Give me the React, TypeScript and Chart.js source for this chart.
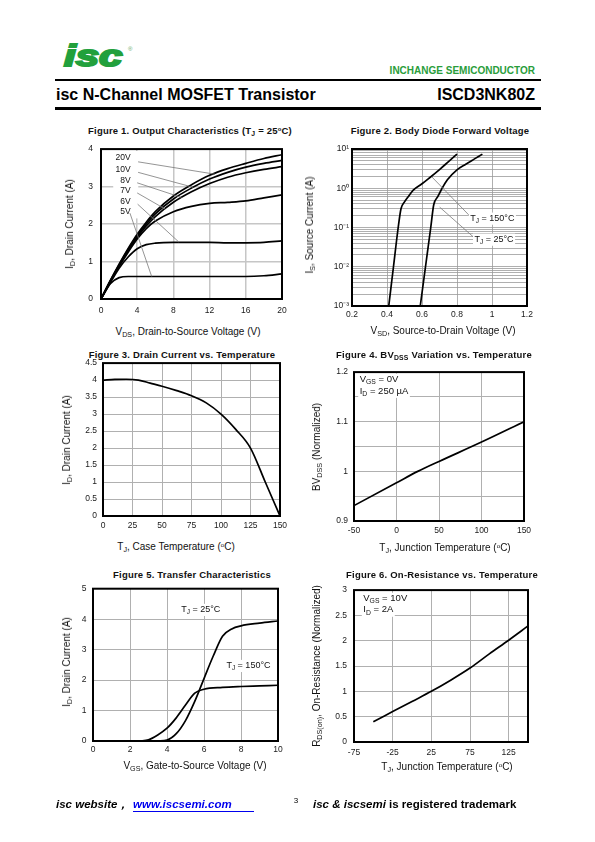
import React, { useEffect, useRef } from 'react';
import { Chart, registerables } from 'chart.js';

Chart.register(...registerables);

const FONT = '"Liberation Sans", Arial, Helvetica, sans-serif';

// ---------- Figure 1: Output characteristics ----------
const fig1Vds = [0, 1, 2, 3, 4, 5, 6, 8, 10, 12, 14, 16, 18, 20];
const fig1Id20V = [0, 0.48, 0.93, 1.35, 1.73, 2.05, 2.33, 2.75, 3.05, 3.3, 3.48, 3.62, 3.75, 3.85];
const fig1Id10V = [0, 0.47, 0.91, 1.32, 1.69, 2.0, 2.27, 2.67, 2.96, 3.2, 3.38, 3.52, 3.62, 3.7];
const fig1Id8V = [0, 0.46, 0.89, 1.29, 1.65, 1.95, 2.2, 2.58, 2.86, 3.08, 3.25, 3.37, 3.46, 3.53];
const fig1Id7V = [0, 0.45, 0.87, 1.25, 1.6, 1.88, 2.08, 2.33, 2.47, 2.55, 2.58, 2.62, 2.7, 2.78];
const fig1Id6V = [0, 0.42, 0.82, 1.12, 1.34, 1.45, 1.49, 1.51, 1.51, 1.51, 1.5, 1.5, 1.51, 1.55];
const fig1Id5V = [0, 0.4, 0.57, 0.6, 0.6, 0.6, 0.6, 0.6, 0.6, 0.6, 0.6, 0.6, 0.62, 0.67];
const fig1XTicks = [0, 4, 8, 12, 16, 20];
const fig1XLabels = ['0', '4', '8', '12', '16', '20'];
const fig1YTicks = [0, 1, 2, 3, 4];
const fig1YLabels = ['0', '1', '2', '3', '4'];
const fig1CurveNames = ['20V', '10V', '8V', '7V', '6V', '5V'];
const fig1NameX = 3.28;
const fig1NameY = [3.76, 3.46, 3.16, 2.88, 2.59, 2.33];
const fig1LeadX0 = [4.1, 4.1, 4.0, 4.0, 4.05, 3.2];
const fig1LeadY0 = [3.66, 3.38, 3.1, 2.83, 2.53, 2.29];
const fig1LeadX1 = [12.6, 10.2, 8.9, 7.1, 8.6, 5.6];
const fig1LeadY1 = [3.33, 2.98, 2.71, 2.4, 1.52, 0.6];

// ---------- Figure 2: Body diode forward voltage ----------
const fig2Vsd150 = [0.41, 0.437, 0.464, 0.48, 0.5, 0.52, 0.55, 0.6, 0.64, 0.7, 0.75, 0.8];
const fig2Is150 = [0.001, 0.01, 0.1, 0.3, 0.45, 0.6, 0.9, 1.3, 1.8, 3.0, 4.7, 7.4];
const fig2Vsd25 = [0.59, 0.62, 0.65, 0.667, 0.69, 0.715, 0.745, 0.8, 0.85, 0.9, 0.945];
const fig2Is25 = [0.001, 0.01, 0.1, 0.38, 0.61, 1.0, 1.65, 2.95, 4.1, 5.6, 7.4];
const fig2XTicks = [0.2, 0.4, 0.6, 0.8, 1.0, 1.2];
const fig2XLabels = ['0.2', '0.4', '0.6', '0.8', '1', '1.2'];
const fig2Decades = [0.001, 0.01, 0.1, 1, 10];
const fig2DecadeLabels = ['10\u207B\u00B3', '10\u207B\u00B2', '10\u207B\u00B9', '10\u2070', '10\u00B9'];
const fig2Minor = [2, 3, 4, 5, 6, 7, 8, 9];
const fig2LabelText = ['T_{J} = 150\u00B0C', 'T_{J} = 25\u00B0C'];
const fig2LabelX = [0.876, 0.9];
const fig2LabelY = [0.173, 0.0504];
const fig2LeadX0 = [0.657, 0.701];
const fig2LeadY0 = [1.93, 0.33];
const fig2LeadX1 = [0.872, 0.895];
const fig2LeadY1 = [0.199, 0.0566];

// ---------- Figure 3: Drain current vs temperature ----------
const fig3Tc = [0, 10, 20, 30, 40, 50, 62.5, 75, 87.5, 100, 112.5, 125, 137.5, 150];
const fig3Id = [4.0, 4.02, 4.025, 4.0, 3.91, 3.82, 3.69, 3.54, 3.33, 3.0, 2.55, 2.0, 1.0, 0];
const fig3XTicks = [0, 25, 50, 75, 100, 125, 150];
const fig3XLabels = ['0', '25', '50', '75', '100', '125', '150'];
const fig3YTicks = [0, 0.5, 1, 1.5, 2, 2.5, 3, 3.5, 4, 4.5];
const fig3YLabels = ['0', '0.5', '1', '1.5', '2', '2.5', '3', '3.5', '4', '4.5'];

// ---------- Figure 4: BVdss vs temperature ----------
const fig4Tj = [-50, 0, 25, 50, 100, 150];
const fig4Bv = [0.931, 0.977, 1.0, 1.02, 1.059, 1.1];
const fig4XTicks = [-50, 0, 50, 100, 150];
const fig4XLabels = ['-50', '0', '50', '100', '150'];
const fig4YTicks = [0.9, 0.95, 1.0, 1.05, 1.1, 1.15, 1.2];
const fig4YLabels = ['0.9', '', '1', '', '1.1', '', '1.2'];
const fig4LabelText = ['V_{GS} = 0V', 'I_{D} = 250 \u00B5A'];
const fig4LabelX = [-43.3, -43.3];
const fig4LabelY = [1.185, 1.162];

// ---------- Figure 5: Transfer characteristics ----------
const fig5Vgs25 = [3.5, 4, 4.5, 5, 5.5, 6, 6.5, 7, 7.5, 8, 9, 10];
const fig5Id25 = [0, 0.03, 0.24, 0.67, 1.3, 2.05, 2.79, 3.44, 3.68, 3.78, 3.87, 3.94];
const fig5Vgs150 = [2.5, 3, 3.5, 4, 4.5, 5, 5.5, 6, 7, 8, 9, 10];
const fig5Id150 = [0, 0.04, 0.2, 0.42, 0.76, 1.18, 1.57, 1.7, 1.76, 1.79, 1.81, 1.83];
const fig5XTicks = [0, 2, 4, 6, 8, 10];
const fig5XLabels = ['0', '2', '4', '6', '8', '10'];
const fig5YTicks = [0, 1, 2, 3, 4, 5];
const fig5YLabels = ['0', '1', '2', '3', '4', '5'];
const fig5LabelText = ['T_{J} = 25\u00B0C', 'T_{J} = 150\u00B0C'];
const fig5LabelX = [4.77, 7.21];
const fig5LabelY = [4.32, 2.48];

// ---------- Figure 6: On-resistance vs temperature ----------
const fig6Tj = [-50, -25, 0, 25, 50, 75, 100, 125, 150];
const fig6Rds = [0.4, 0.6, 0.8, 1.0, 1.22, 1.46, 1.74, 2.01, 2.29];
const fig6XTicks = [-75, -25, 25, 75, 125];
const fig6XLabels = ['-75', '-25', '25', '75', '125'];
const fig6YTicks = [0, 0.5, 1, 1.5, 2, 2.5, 3];
const fig6YLabels = ['0', '0.5', '1', '1.5', '2', '2.5', '3'];
const fig6LabelText = ['V_{GS} = 10V', 'I_{D} = 2A'];
const fig6LabelX = [-63, -63];
const fig6LabelY = [2.83, 2.61];

// ---------- helpers ----------
type Axis = { type?: 'linear' | 'logarithmic'; min: number; max: number; ticks: number[]; labels: string[]; pad: number };
type Series = { xs: number[]; ys: number[] };
type Draw = (ctx: CanvasRenderingContext2D, sx: (v: number) => number, sy: (v: number) => number) => void;

const YW = 44, XH = 24, PT = 10, PR = 16;

function drawRich(ctx: CanvasRenderingContext2D, s: string, x: number, y: number, size: number, align: string, bg: boolean) {
  const parts: { t: string; sub: boolean; w?: number }[] = [];
  const re = /_\{([^}]*)\}/g;
  let last = 0;
  let m: RegExpExecArray | null;
  while ((m = re.exec(s))) {
    if (m.index > last) parts.push({ t: s.slice(last, m.index), sub: false });
    parts.push({ t: m[1], sub: true });
    last = re.lastIndex;
  }
  if (last < s.length) parts.push({ t: s.slice(last), sub: false });
  const fontFor = (sub: boolean) => `${sub ? size * 0.72 : size}px ${FONT}`;
  let w = 0;
  for (const p of parts) {
    ctx.font = fontFor(p.sub);
    p.w = ctx.measureText(p.t).width;
    w += p.w;
  }
  let x0 = align === 'right' ? x - w : align === 'center' ? x - w / 2 : x;
  if (bg) {
    ctx.fillStyle = '#fff';
    ctx.fillRect(x0 - 1.5, y - size * 0.62, w + 3, size * 1.35);
  }
  ctx.fillStyle = '#111';
  ctx.textBaseline = 'middle';
  ctx.textAlign = 'left';
  for (const p of parts) {
    ctx.font = fontFor(p.sub);
    ctx.fillText(p.t, x0, p.sub ? y + size * 0.3 : y);
    x0 += p.w || 0;
  }
}

function leader(ctx: CanvasRenderingContext2D, x0: number, y0: number, x1: number, y1: number) {
  ctx.strokeStyle = '#7a7a7a';
  ctx.lineWidth = 0.8;
  ctx.beginPath();
  ctx.moveTo(x0, y0);
  ctx.lineTo(x1, y1);
  ctx.stroke();
}

type PlotProps = {
  left: number; top: number; right: number; bottom: number;
  x: Axis; y: Axis; series: Series[];
  gridColor: string; gridWidth: number;
  under?: Draw; over?: Draw;
};

function Plot(props: PlotProps) {
  const ref = useRef<HTMLCanvasElement>(null);
  const w = props.right - props.left + YW + PR;
  const h = props.bottom - props.top + PT + XH;
  useEffect(() => {
    const axis = (a: Axis, isX: boolean) => ({
      type: a.type || 'linear',
      min: a.min,
      max: a.max,
      afterBuildTicks: (s: any) => { s.ticks = a.ticks.map((v) => ({ value: v })); },
      afterFit: (s: any) => { if (isX) s.height = XH; else s.width = YW; },
      grid: { color: props.gridColor, lineWidth: props.gridWidth, drawTicks: false },
      border: { display: false },
      ticks: {
        autoSkip: false, maxRotation: 0, minRotation: 0, padding: a.pad, color: '#1a1a1a',
        font: { family: FONT, size: 8.5 },
        callback: (_v: any, i: number) => a.labels[i],
      },
    });
    const chart = new Chart(ref.current as HTMLCanvasElement, {
      type: 'line',
      data: {
        datasets: props.series.map((s) => ({
          data: s.xs.map((xv, i) => ({ x: xv, y: s.ys[i] })),
          borderColor: '#000',
          borderWidth: 1.7,
          pointRadius: 0,
          fill: false,
          cubicInterpolationMode: 'monotone',
        })),
      },
      options: {
        responsive: false,
        animation: false,
        devicePixelRatio: 1,
        layout: { padding: { top: PT, right: PR, left: 0, bottom: 0 } },
        plugins: { legend: { display: false }, tooltip: { enabled: false } },
        scales: { x: axis(props.x, true), y: axis(props.y, false) } as any,
      },
      plugins: [{
        id: 'deco',
        beforeDatasetsDraw(c: any) {
          if (!props.under) return;
          const ctx = c.ctx;
          ctx.save();
          props.under(ctx, (v) => c.scales.x.getPixelForValue(v), (v) => c.scales.y.getPixelForValue(v));
          ctx.restore();
        },
        afterDatasetsDraw(c: any) {
          if (!props.over) return;
          const ctx = c.ctx;
          ctx.save();
          props.over(ctx, (v) => c.scales.x.getPixelForValue(v), (v) => c.scales.y.getPixelForValue(v));
          ctx.restore();
        },
        afterDraw(c: any) {
          const ctx = c.ctx;
          const a = c.chartArea;
          ctx.save();
          ctx.strokeStyle = '#000';
          ctx.lineWidth = 2;
          ctx.strokeRect(a.left, a.top, a.right - a.left, a.bottom - a.top);
          ctx.restore();
        },
      } as any],
    } as any);
    return () => chart.destroy();
  }, []);
  return (
    <canvas
      ref={ref}
      width={w}
      height={h}
      style={{ position: 'absolute', left: props.left - YW, top: props.top - PT, width: w, height: h }}
    />
  );
}

const Sub = ({ children }: { children: any }) => (
  <span style={{ fontSize: '0.72em', position: 'relative', top: '0.3em' }}>{children}</span>
);
const Deg = () => <span style={{ fontSize: '0.62em', position: 'relative', top: '-0.55em' }}>o</span>;

function Txt(p: { x: number; y: number; size: number; bold?: boolean; italic?: boolean; color?: string; align?: string; rotate?: boolean; ls?: number; children: any; family?: string }) {
  const tx = p.align === 'left' ? '0' : p.align === 'right' ? '-100%' : '-50%';
  return (
    <div
      style={{
        position: 'absolute', left: p.x, top: p.y,
        transform: `translate(${tx}, -50%)${p.rotate ? ' rotate(-90deg)' : ''}`,
        fontFamily: p.family || FONT, fontSize: p.size, fontWeight: p.bold ? 700 : 400,
        fontStyle: p.italic ? 'italic' : 'normal', color: p.color || '#111',
        whiteSpace: 'nowrap', lineHeight: 1, letterSpacing: p.ls || 0,
      }}
    >
      {p.children}
    </div>
  );
}

function labelsDraw(texts: string[], xs: number[], ys: number[], size: number): Draw {
  return (ctx, sx, sy) => {
    texts.forEach((t, i) => drawRich(ctx, t, sx(xs[i]), sy(ys[i]), size, 'left', true));
  };
}

const fig2YTicks: number[] = [];
fig2Decades.forEach((d, i) => {
  fig2YTicks.push(d);
  if (i < fig2Decades.length - 1) fig2Minor.forEach((m) => fig2YTicks.push(d * m));
});
const fig2YLabels = fig2YTicks.map((v) => {
  const k = fig2Decades.indexOf(v);
  return k >= 0 ? fig2DecadeLabels[k] : '';
});

const TITLE = 9.5;
const AX = 10;

export default function App() {
  return (
    <div style={{ position: 'absolute', left: 0, top: 0, width: 595, height: 842, background: '#fff', overflow: 'hidden', fontFamily: FONT }}>
      {/* header */}
      <div style={{ position: 'absolute', left: 64, top: 42, fontFamily: FONT, fontWeight: 700, fontStyle: 'italic', fontSize: 29, color: '#22a03c', transform: 'scaleX(1.45)', transformOrigin: 'left top', WebkitTextStroke: '2px #22a03c', lineHeight: 1 }}>isc</div>
      <div style={{ position: 'absolute', left: 128, top: 46, fontSize: 6, color: '#6a6', fontFamily: FONT, lineHeight: 1 }}>®</div>
      <Txt x={535} y={71} size={10} bold color="#2a9d3a" align="right">INCHANGE SEMICONDUCTOR</Txt>
      <div style={{ position: 'absolute', left: 55, top: 79, width: 486, height: 2, background: '#000' }} />
      <Txt x={56} y={95} size={16} bold align="left" color="#000">isc N-Channel MOSFET Transistor</Txt>
      <Txt x={535} y={95} size={16} bold align="right" color="#000">ISCD3NK80Z</Txt>
      <div style={{ position: 'absolute', left: 55, top: 107, width: 486, height: 3, background: '#000' }} />

      {/* Figure 1 */}
      <Txt x={190} y={131} size={TITLE} bold ls={0.2}>Figure 1. Output Characteristics (T<Sub>J</Sub> = 25<Deg />C)</Txt>
      <Plot
        left={101} top={146} right={282} bottom={299}
        x={{ min: 0, max: 20, ticks: fig1XTicks, labels: fig1XLabels, pad: 6.6 }}
        y={{ min: 0, max: 4, ticks: fig1YTicks, labels: fig1YLabels, pad: 8 }}
        series={[
          { xs: fig1Vds, ys: fig1Id20V }, { xs: fig1Vds, ys: fig1Id10V }, { xs: fig1Vds, ys: fig1Id8V },
          { xs: fig1Vds, ys: fig1Id7V }, { xs: fig1Vds, ys: fig1Id6V }, { xs: fig1Vds, ys: fig1Id5V },
        ]}
        gridColor="#c6c6c6" gridWidth={1.5}
        under={(ctx, sx, sy) => {
          ctx.fillStyle = '#fff';
          ctx.fillRect(sx(1.35), sy(3.95), sx(4.12) - sx(1.35), sy(2.15) - sy(3.95));
        }}
        over={(ctx, sx, sy) => {
          fig1CurveNames.forEach((n, i) => {
            leader(ctx, sx(fig1LeadX0[i]), sy(fig1LeadY0[i]), sx(fig1LeadX1[i]), sy(fig1LeadY1[i]));
            drawRich(ctx, n, sx(fig1NameX), sy(fig1NameY[i]), 8.5, 'right', false);
          });
        }}
      />
      <Txt x={188} y={332} size={AX}>V<Sub>DS</Sub>, Drain-to-Source Voltage (V)</Txt>
      <Txt x={70} y={224} size={AX} rotate>I<Sub>D</Sub>, Drain Current (A)</Txt>

      {/* Figure 2 */}
      <Txt x={440} y={131} size={TITLE} bold ls={0.2}>Figure 2. Body Diode Forward Voltage</Txt>
      <Plot
        left={352} top={149} right={527} bottom={306}
        x={{ min: 0.2, max: 1.2, ticks: fig2XTicks, labels: fig2XLabels, pad: 4 }}
        y={{ type: 'logarithmic', min: 0.001, max: 10, ticks: fig2YTicks, labels: fig2YLabels, pad: 3 }}
        series={[{ xs: fig2Vsd150, ys: fig2Is150 }, { xs: fig2Vsd25, ys: fig2Is25 }]}
        gridColor="#9a9a9a" gridWidth={0.8}
        over={(ctx, sx, sy) => {
          fig2LabelText.forEach((t, i) => {
            leader(ctx, sx(fig2LeadX0[i]), sy(fig2LeadY0[i]), sx(fig2LeadX1[i]), sy(fig2LeadY1[i]));
            drawRich(ctx, t, sx(fig2LabelX[i]), sy(fig2LabelY[i]), 9, 'left', true);
          });
        }}
      />
      <Txt x={443} y={331} size={AX}>V<Sub>SD</Sub>, Source-to-Drain Voltage (V)</Txt>
      <Txt x={310} y={225} size={AX} rotate>I<Sub>S</Sub>, Source Current (A)</Txt>

      {/* Figure 3 */}
      <Txt x={182} y={355} size={TITLE} bold ls={0.2}>Figure 3. Drain Current vs. Temperature</Txt>
      <Plot
        left={103} top={362} right={280} bottom={516}
        x={{ min: 0, max: 150, ticks: fig3XTicks, labels: fig3XLabels, pad: 4.6 }}
        y={{ min: 0, max: 4.5, ticks: fig3YTicks, labels: fig3YLabels, pad: 6 }}
        series={[{ xs: fig3Tc, ys: fig3Id }]}
        gridColor="#b0b0b0" gridWidth={1}
      />
      <Txt x={176} y={547} size={AX}>T<Sub>J</Sub>, Case Temperature (<Deg />C)</Txt>
      <Txt x={67} y={440} size={AX} rotate>I<Sub>D</Sub>, Drain Current (A)</Txt>

      {/* Figure 4 */}
      <Txt x={434} y={355} size={TITLE} bold ls={0.2}>Figure 4. BV<Sub>DSS</Sub> Variation vs. Temperature</Txt>
      <Plot
        left={354} top={371} right={524} bottom={521}
        x={{ min: -50, max: 150, ticks: fig4XTicks, labels: fig4XLabels, pad: 4.6 }}
        y={{ min: 0.9, max: 1.2, ticks: fig4YTicks, labels: fig4YLabels, pad: 6 }}
        series={[{ xs: fig4Tj, ys: fig4Bv }]}
        gridColor="#b0b0b0" gridWidth={1}
        over={labelsDraw(fig4LabelText, fig4LabelX, fig4LabelY, 9.5)}
      />
      <Txt x={445} y={548} size={AX}>T<Sub>J</Sub>, Junction Temperature (<Deg />C)</Txt>
      <Txt x={317} y={447} size={AX} rotate>BV<Sub>DSS</Sub> (Normalized)</Txt>

      {/* Figure 5 */}
      <Txt x={192} y={575} size={TITLE} bold ls={0.2}>Figure 5. Transfer Characteristics</Txt>
      <Plot
        left={93} top={587} right={278} bottom={741}
        x={{ min: 0, max: 10, ticks: fig5XTicks, labels: fig5XLabels, pad: 3.2 }}
        y={{ min: 0, max: 5, ticks: fig5YTicks, labels: fig5YLabels, pad: 6.6 }}
        series={[{ xs: fig5Vgs25, ys: fig5Id25 }, { xs: fig5Vgs150, ys: fig5Id150 }]}
        gridColor="#b0b0b0" gridWidth={1}
        over={labelsDraw(fig5LabelText, fig5LabelX, fig5LabelY, 9)}
      />
      <Txt x={195} y={766} size={AX}>V<Sub>GS</Sub>, Gate-to-Source Voltage (V)</Txt>
      <Txt x={67} y={662} size={AX} rotate>I<Sub>D</Sub>, Drain Current (A)</Txt>

      {/* Figure 6 */}
      <Txt x={442} y={575} size={TITLE} bold ls={0.2}>Figure 6. On-Resistance vs. Temperature</Txt>
      <Plot
        left={354} top={588} right={528} bottom={742}
        x={{ min: -75, max: 150, ticks: fig6XTicks, labels: fig6XLabels, pad: 5.2 }}
        y={{ min: 0, max: 3, ticks: fig6YTicks, labels: fig6YLabels, pad: 7 }}
        series={[{ xs: fig6Tj, ys: fig6Rds }]}
        gridColor="#b0b0b0" gridWidth={1}
        over={labelsDraw(fig6LabelText, fig6LabelX, fig6LabelY, 9.5)}
      />
      <Txt x={447} y={767} size={AX}>T<Sub>J</Sub>, Junction Temperature (<Deg />C)</Txt>
      <Txt x={317} y={666} size={AX} rotate>R<Sub>DS(on)</Sub>, On-Resistance (Normalized)</Txt>

      {/* footer */}
      <Txt x={56} y={805} size={11.5} bold italic align="left" color="#000">isc website，</Txt>
      <Txt x={133} y={805} size={11.5} bold italic align="left" color="#0000ee">www.iscsemi.com</Txt>
      <div style={{ position: 'absolute', left: 133, top: 811, width: 121, height: 1, background: '#0000ee' }} />
      <Txt x={296} y={801} size={8} align="center" color="#000">3</Txt>
      <Txt x={313} y={805} size={11.5} bold align="left" color="#000"><i>isc &amp; iscsemi</i> is registered trademark</Txt>
    </div>
  );
}
